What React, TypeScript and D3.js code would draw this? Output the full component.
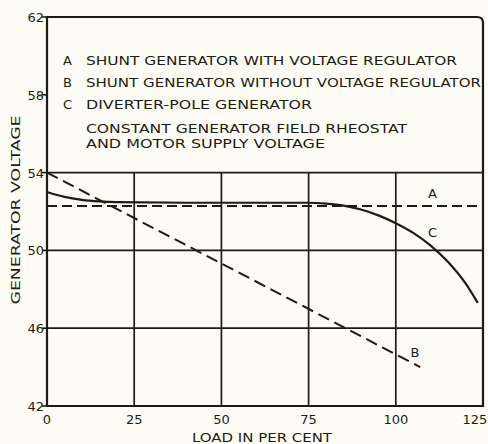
import React from 'react';
import * as d3 from 'd3';

// Data (load in per cent, generator voltage)
const loadTicks = [0, 25, 50, 75, 100, 125];
const voltTicks = [42, 46, 50, 54, 58, 62];
const gridLoads = [25, 50, 75, 100];
const gridVolts = [46, 50, 54];

const curveA = [
  { load: 0, volt: 52.28 },
  { load: 125, volt: 52.28 },
];
const curveB = [
  { load: 0, volt: 54.0 },
  { load: 107, volt: 44.0 },
];
const curveC = [
  { load: 0, volt: 53.0 },
  { load: 5, volt: 52.75 },
  { load: 10, volt: 52.6 },
  { load: 15, volt: 52.52 },
  { load: 20, volt: 52.48 },
  { load: 40, volt: 52.45 },
  { load: 60, volt: 52.45 },
  { load: 75, volt: 52.45 },
  { load: 80, volt: 52.4 },
  { load: 85, volt: 52.3 },
  { load: 90, volt: 52.1 },
  { load: 95, volt: 51.8 },
  { load: 100, volt: 51.4 },
  { load: 105, volt: 50.9 },
  { load: 110, volt: 50.25 },
  { load: 115, volt: 49.4 },
  { load: 120, volt: 48.3 },
  { load: 123.5, volt: 47.3 },
];

const legendKeys = ['A', 'B', 'C'];
const legendLabels = [
  'SHUNT GENERATOR WITH VOLTAGE REGULATOR',
  'SHUNT GENERATOR WITHOUT VOLTAGE REGULATOR',
  'DIVERTER-POLE GENERATOR',
];
const noteLines = ['CONSTANT GENERATOR FIELD RHEOSTAT', 'AND MOTOR SUPPLY VOLTAGE'];

const W = 488;
const H = 444;
const INK = '#1c1c12';
const PAPER = '#fcfcf4';
const FONT = '"DejaVu Sans", "Liberation Sans", sans-serif';

export default function App() {
  const x = d3.scaleLinear().domain([0, 125]).range([47, 483]);
  const y = d3.scaleLinear().domain([42, 62]).range([406, 17]);

  const line = d3
    .line<{ load: number; volt: number }>()
    .x(d => x(d.load))
    .y(d => y(d.volt));
  const smooth = d3
    .line<{ load: number; volt: number }>()
    .x(d => x(d.load))
    .y(d => y(d.volt))
    .curve(d3.curveMonotoneX);

  const x0 = x(0), x1 = x(125), yTop = y(62), yBot = y(42);
  const r = 6;

  // legend widths
  const legendWidths = [371, 395, 226];
  const noteWidths = [321, 239];
  const legendY = [65, 87, 109];
  const noteY = [133, 148];

  return (
    <div style={{ position: 'absolute', left: 0, top: 0 }}>
      <svg width={W} height={H} style={{ display: 'block', background: PAPER }} fontFamily={FONT}>
        <rect width={W} height={H} fill={PAPER} />

        {/* grid */}
        <g stroke={INK} strokeWidth={1.7}>
          {gridLoads.map(l => (
            <line key={'gx' + l} x1={x(l)} x2={x(l)} y1={y(54)} y2={yBot} />
          ))}
          {gridVolts.map(v => (
            <line key={'gy' + v} x1={x0} x2={x1} y1={y(v)} y2={y(v)} />
          ))}
        </g>

        {/* frame with rounded top-right corner */}
        <path
          d={`M${x0},${yBot} L${x0},${yTop} L${x1 - r},${yTop} Q${x1},${yTop} ${x1},${yTop + r} L${x1},${yBot} Z`}
          fill="none"
          stroke={INK}
          strokeWidth={2.2}
        />

        {/* y ticks */}
        <g stroke={INK} strokeWidth={1.6}>
          {voltTicks.map(v => (
            <line key={'ty' + v} x1={x0 - 5} x2={x0} y1={y(v)} y2={y(v)} />
          ))}
        </g>
        <g fill={INK} fontSize={13} textAnchor="end">
          {voltTicks.map(v => (
            <text key={'ly' + v} x={x0 - 3} y={y(v) + 5}>{v}</text>
          ))}
        </g>
        <g fill={INK} fontSize={13} textAnchor="middle">
          {loadTicks.map(l => (
            <text key={'lx' + l} x={Math.min(x(l), W - 13)} y={424}>{l}</text>
          ))}
        </g>

        {/* axis titles */}
        <text x={262} y={442} fill={INK} fontSize={13} textAnchor="middle" textLength={140} lengthAdjust="spacingAndGlyphs">
          LOAD IN PER CENT
        </text>
        <text
          transform="translate(20,210) rotate(-90)"
          fill={INK}
          fontSize={13}
          textAnchor="middle"
          textLength={189}
          lengthAdjust="spacingAndGlyphs"
        >
          GENERATOR VOLTAGE
        </text>

        {/* legend */}
        <g fill={INK} fontSize={13}>
          {legendKeys.map((k, i) => (
            <text key={'k' + k} x={63} y={legendY[i]}>{k}</text>
          ))}
          {legendLabels.map((t, i) => (
            <text key={'t' + i} x={86} y={legendY[i]} textLength={legendWidths[i]} lengthAdjust="spacingAndGlyphs">{t}</text>
          ))}
          {noteLines.map((t, i) => (
            <text key={'n' + i} x={86} y={noteY[i]} textLength={noteWidths[i]} lengthAdjust="spacingAndGlyphs">{t}</text>
          ))}
        </g>

        {/* curves */}
        <path d={line(curveA) ?? ''} fill="none" stroke={INK} strokeWidth={2} strokeDasharray="10 5" />
        <path d={line(curveB) ?? ''} fill="none" stroke={INK} strokeWidth={2} strokeDasharray="12 6" />
        <path d={smooth(curveC) ?? ''} fill="none" stroke={INK} strokeWidth={2.2} />

        {/* curve labels */}
        <g fill={INK} fontSize={13} textAnchor="middle">
          <text x={x(110.5)} y={y(52.7)}>A</text>
          <text x={x(110.5)} y={y(50.7)}>C</text>
          <text x={x(105.5)} y={y(44.5)}>B</text>
        </g>
      </svg>
    </div>
  );
}
